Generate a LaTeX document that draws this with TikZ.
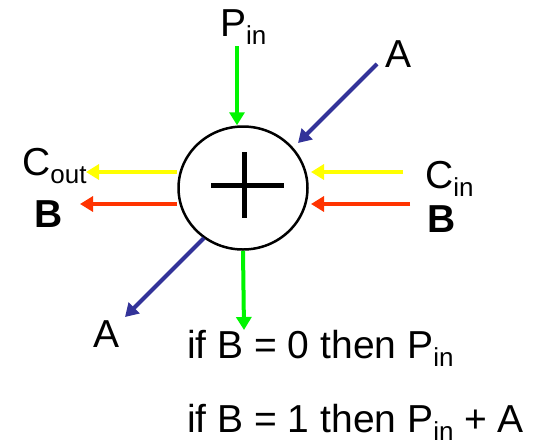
\documentclass[tikz,border=0pt]{standalone}
\usepackage{fontspec}
\setmainfont{Liberation Sans}
\usetikzlibrary{arrows.meta,shapes.geometric}
\definecolor{pgreen}{RGB}{0,245,0}
\definecolor{cyell}{RGB}{255,255,0}
\definecolor{bred}{RGB}{255,51,0}
\definecolor{ablue}{RGB}{51,51,153}
\newcommand{\lowidx}[1]{\raisebox{-8pt}{\fontsize{26}{26}\selectfont #1}}
\tikzset{lbl/.style={anchor=base west,inner sep=0pt},
  arr/.style={line width=4pt,-{Triangle[length=13pt,width=15pt]}}}

\begin{document}
\begin{tikzpicture}[x=1pt,y=-1pt,font=\fontsize{39}{39}\selectfont]
  \useasboundingbox (0,0) rectangle (535,445);
  \node[ellipse,draw,line width=2.5pt,minimum width=129pt,minimum height=123pt,inner sep=0pt] (add) at (243,188) {};
  \draw[line width=5pt] (211,185) -- (284,185) (244,152) -- (244,218); % plus sign
  \node[lbl] (pin) at (220,36) {P\lowidx{in}};
  \node[lbl] (atop) at (385,67) {A};
  \node[lbl] (cout) at (22,175) {C\lowidx{out}}; \node[lbl] (bleft) at (34,227) {\bfseries B};
  \node[lbl] (cin) at (425,188) {C\lowidx{in}}; \node[lbl] (bright) at (427,232) {\bfseries B};
  \node[lbl] (abot) at (93,347) {A};
  \node[lbl] (rule0) at (187,358) {if B = 0 then P\lowidx{in}};
  \node[lbl] (rule1) at (187,432) {if B = 1 then P\lowidx{in} + A};
  \coordinate (pinend) at (237,46); \coordinate (aend) at (377,64);
  \coordinate (cinend) at (403,172); \coordinate (binend) at (410,204);
  \coordinate (coutend) at (86,172); \coordinate (boutend) at (80,204);
  \coordinate (aout) at (125,317); \coordinate (pout) at (244,330);
  \draw[arr,pgreen] (pinend) -- (pinend |- add.north);
  \draw[arr,ablue] (aend) -- (298,143);
  \draw[arr,cyell] (cinend) -- (311,172); \draw[arr,bred] (binend) -- (311,204);
  \draw[arr,cyell] (177,172) -- (coutend); \draw[arr,bred] (177,204) -- (boutend);
  \draw[arr,ablue] (204,238) -- (aout);
  \draw[arr,pgreen] (add.south) -- (pout);
\end{tikzpicture}
\end{document}
